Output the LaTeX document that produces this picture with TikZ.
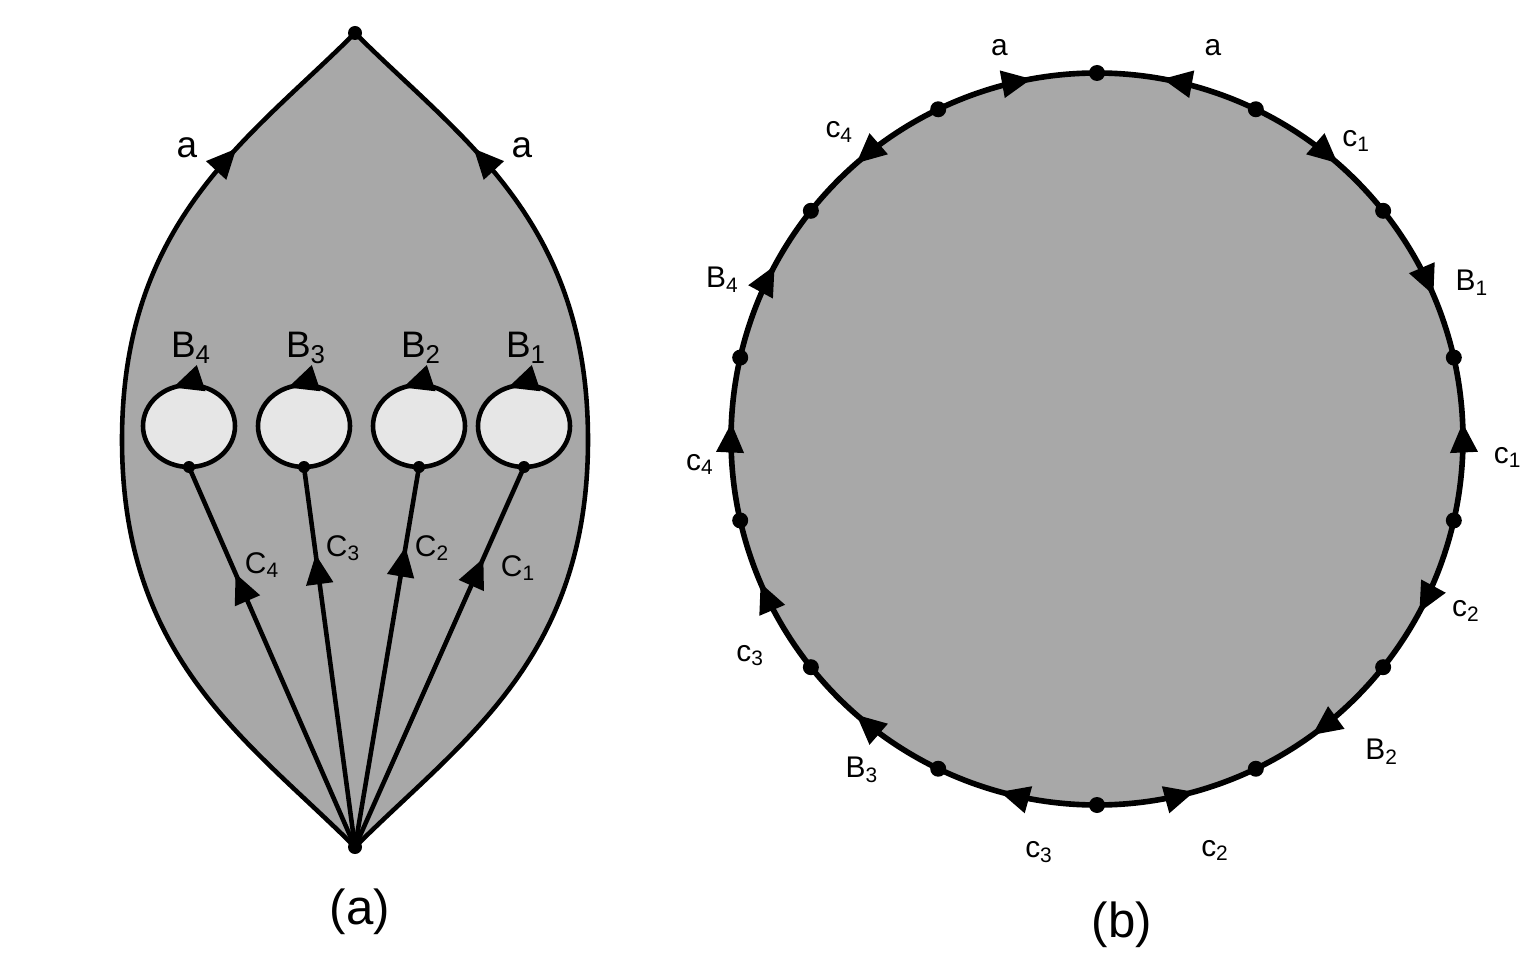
\documentclass[tikz,border=0pt]{standalone}
\usepackage{fontspec}
\setmainfont{Liberation Sans}
\usetikzlibrary{arrows.meta}
\usetikzlibrary{decorations.markings}
\usetikzlibrary{calc}

\definecolor{surface}{RGB}{168,168,168}
\definecolor{holefill}{RGB}{230,230,230}

\newcommand{\edgelab}[2]{#1\textsubscript{#2}}

\begin{document}
\begin{tikzpicture}[x=0.02cm,y=0.02cm,
  midarrow/.style={decoration={markings, mark=at position #1 with {\arrow{Triangle[length=17pt,width=15pt]}}}, postaction={decorate}},
  edge line/.style={line width=2.6pt},
  ring line/.style={line width=3.2pt},
  lbl/.style={font=\fontsize{17}{20}\selectfont, inner sep=0pt},
  biglbl/.style={font=\fontsize{21}{24}\selectfont, inner sep=0pt},
  caption/.style={font=\fontsize{28}{32}\selectfont, inner sep=0pt}]
  \useasboundingbox (0,0) rectangle (1524,975);

  % Define the radius of the disc and the number of edges on it
  \def\discradius{366}
  \def\nedges{14}

  % Draw the surface (a)
  \coordinate (top) at (355,942);
  \coordinate (bot) at (355,128);
  \fill[surface] (bot) .. controls (249,234) and (122,315) .. (122,535)
    .. controls (122,755) and (249,836) .. (top)
    .. controls (461,836) and (588,755) .. (588,535)
    .. controls (588,315) and (461,234) .. (bot) -- cycle;
  \draw[edge line, midarrow=0.83] (bot) .. controls (249,234) and (122,315) .. (122,535)
    .. controls (122,755) and (249,836) .. (top);
  \draw[edge line, midarrow=0.83] (bot) .. controls (461,234) and (588,315) .. (588,535)
    .. controls (588,755) and (461,836) .. (top);
  \node[biglbl] (al) at (187,827) {a};
  \node[biglbl] (ar) at (522,827) {a};

  % Draw the holes and the cuts to them
  \foreach \i/\x/\p/\cx/\cy in {4/189/0.72/262/410, 3/304/0.77/343/427, 2/419/0.79/432/427, 1/524/0.76/518/407} {
    \coordinate (h\i) at (\x,549);
    \path (h\i) ++(0,-41) coordinate (d\i);
    \draw[edge line, fill=holefill, midarrow=0.31] (h\i) ellipse [x radius=46, y radius=41];
    \draw[edge line, midarrow=\p] (bot) -- (d\i);
    \node[biglbl] (B\i) at (\x+2,627) {\edgelab{B}{\i}};
    \node[lbl] (C\i) at (\cx,\cy) {\edgelab{C}{\i}};
    \fill (d\i) circle (6);
  }
  \fill (top) circle (7);
  \fill (bot) circle (7);
  \node[caption] (capa) at (360,63) {(a)};

  % Draw the polygon (b)
  \coordinate (disc) at (1097,536);
  \fill[surface] (disc) circle (\discradius);
  \foreach \k/\dir/\txt/\la/\lr in {1/1/a/104/403, 2/-1/a/73.5/408,
      3/1/{\edgelab{c}{1}}/49/395, 4/1/{\edgelab{B}{1}}/22.6/406,
      5/-1/{\edgelab{c}{1}}/-2.6/411, 6/1/{\edgelab{c}{2}}/-25/407,
      7/1/{\edgelab{B}{2}}/-47.7/423, 8/-1/{\edgelab{c}{2}}/-74/428,
      9/1/{\edgelab{c}{3}}/-98/417, 10/1/{\edgelab{B}{3}}/-125.4/406,
      11/1/{\edgelab{c}{3}}/-148/409, 12/1/{\edgelab{c}{4}}/-176.3/398,
      13/1/{\edgelab{B}{4}}/157/407, 14/-1/{\edgelab{c}{4}}/130/401} {
    \pgfmathsetmacro{\hi}{90-(\k-2)*360/\nedges}
    \pgfmathsetmacro{\lo}{\hi-360/\nedges}
    \pgfmathsetmacro{\sa}{\dir>0 ? \hi : \lo}
    \pgfmathsetmacro{\ea}{\dir>0 ? \lo : \hi}
    \draw[ring line, midarrow=0.6] (disc) ++(\sa:\discradius) arc[start angle=\sa, end angle=\ea, radius=\discradius];
    \node[lbl] (s\k) at ($(disc)+(\la:\lr)$) {\txt};
  }

  % Draw the vertices of the polygon
  \foreach \k in {0,...,13} {
    \pgfmathsetmacro{\va}{90-\k*360/\nedges}
    \coordinate (v\k) at ($(disc)+(\va:\discradius)$);
    \fill (v\k) circle (8);
  }
  \node[caption] (capb) at (1122,50) {(b)};

\end{tikzpicture}
\end{document}
